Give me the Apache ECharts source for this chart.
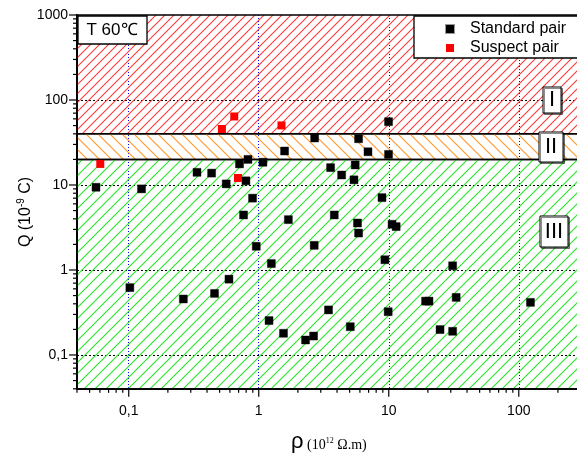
<!DOCTYPE html>
<html><head><meta charset="utf-8">
<script src="https://cdn.jsdelivr.net/npm/echarts@6/dist/echarts.min.js"></script>
<style>html,body{margin:0;padding:0;background:#fff}#c{width:577px;height:457px}</style>
</head><body><div id="c"></div>
<script>
// ---- data ----
const standardRho = [0.056, 0.1255, 0.102, 0.263, 0.335, 0.434, 0.457, 0.562, 0.59, 0.711, 0.764, 0.797, 0.826, 0.896, 0.957, 1.077, 1.2, 1.25, 1.55, 1.58, 1.69, 2.29, 2.64, 2.67, 2.69, 3.44, 3.57, 3.81, 4.34, 5.06, 5.4, 5.52, 5.75, 5.86, 5.86, 6.92, 8.87, 9.34, 9.9, 9.96, 9.96, 10.6, 11.4, 19.2, 20.4, 24.8, 31.0, 31.0, 33.0, 123];
const standardQ = [9.4, 9.0, 0.62, 0.456, 14.1, 13.8, 0.53, 10.3, 0.78, 17.7, 4.44, 11.2, 20.0, 7.0, 1.9, 18.5, 0.254, 1.19, 0.18, 25.1, 3.91, 0.15, 0.167, 1.95, 35.7, 0.339, 16.0, 4.44, 13.1, 0.215, 11.5, 17.2, 3.57, 2.72, 35.0, 24.6, 7.1, 1.32, 0.323, 55.6, 22.9, 3.45, 3.24, 0.43, 0.43, 0.199, 1.12, 0.19, 0.476, 0.416];
const suspectRho = [0.0604, 0.521, 0.648, 0.692, 1.497];
const suspectQ = [17.7, 45.6, 64, 12.1, 50.2];
const zoneNames = ['I', 'II', 'III'];
const zoneLow = [40, 20, 0.04];
const zoneHigh = [1000, 40, 20];
const xTickValues = [0.1, 1, 10, 100];
const xTickLabels = ['0,1', '1', '10', '100'];
const yTickValues = [0.1, 1, 10, 100, 1000];
const yTickLabels = ['0,1', '1', '10', '100', '1000'];
const xDecades = [0.01, 0.1, 1, 10, 100];
const yDecades = [0.01, 0.1, 1, 10, 100];
const mantissas = [2, 3, 4, 5, 6, 7, 8, 9];
const X_MIN = 0.04, X_MAX = 300, Y_MIN = 0.04, Y_MAX = 1000;

const SANS = '"Liberation Sans", Arial, sans-serif';
const SERIF = '"Liberation Serif", "Times New Roman", serif';

function hatch(color, s, dir, lw) {
  const c = document.createElement('canvas'); c.width = s; c.height = s;
  const g = c.getContext('2d'); g.strokeStyle = color; g.lineWidth = lw;
  g.beginPath();
  if (dir === '/') {
    g.moveTo(-1, s + 1); g.lineTo(s + 1, -1);
    g.moveTo(-2, 2); g.lineTo(2, -2);
    g.moveTo(s - 2, s + 2); g.lineTo(s + 2, s - 2);
  } else {
    g.moveTo(-1, -1); g.lineTo(s + 1, s + 1);
    g.moveTo(s - 2, -2); g.lineTo(s + 2, 2);
    g.moveTo(-2, s - 2); g.lineTo(2, s + 2);
  }
  g.stroke();
  return { image: c, repeat: 'repeat' };
}
const zoneFill = [hatch('#ff3b3b', 9, '/', 1.1), hatch('#ff9a2e', 12, '\\', 1.2), hatch('#2ee62e', 11, '/', 1.2)];

function lbl(values, labels) {
  return function (v) {
    for (let i = 0; i < values.length; i++) {
      if (Math.abs(Math.log10(v) - Math.log10(values[i])) < 1e-6) return labels[i];
    }
    return '';
  };
}

const xTickData = [], yTickData = [];
xTickValues.forEach(v => xTickData.push([v, Y_MIN, 8]));
xDecades.forEach(d => mantissas.forEach(m => { const v = m * d; if (v >= X_MIN - 1e-9 && v <= X_MAX + 1e-9) xTickData.push([v, Y_MIN, 4]); }));
yTickValues.forEach(v => yTickData.push([X_MIN, v, 8]));
yDecades.forEach(d => mantissas.forEach(m => { const v = m * d; if (v >= Y_MIN - 1e-9 && v <= Y_MAX + 1e-9) yTickData.push([X_MIN, v, 4]); }));

const chart = echarts.init(document.getElementById('c'), null, { renderer: 'canvas' });
chart.setOption({
  animation: false,
  backgroundColor: '#fff',
  textStyle: { fontFamily: SANS },
  grid: { left: 77, top: 15, right: -3.8, bottom: 68.2, containLabel: false, outerBoundsMode: 'none' },
  xAxis: {
    type: 'log', logBase: 10, min: X_MIN, max: X_MAX,
    axisLine: { show: true, onZero: false, lineStyle: { color: '#000', width: 2 } },
    axisTick: { show: false },
    axisLabel: { formatter: lbl(xTickValues, xTickLabels), color: '#000', fontSize: 14, fontFamily: SANS, margin: 15, showMinLabel: false, showMaxLabel: false },
    splitLine: { show: true, showMinLine: false, showMaxLine: false, lineStyle: { color: '#0000ff', type: [1, 2], width: 1 } },
    name: '{r|ρ}{t| (10}{s|12}{t| Ω.m)}',
    nameLocation: 'middle', nameGap: 48,
    nameTextStyle: {
      rich: {
        r: { fontSize: 22, fontFamily: SANS, color: '#000', lineHeight: 14, verticalAlign: 'bottom' },
        t: { fontSize: 14, fontFamily: SERIF, color: '#000', lineHeight: 16, verticalAlign: 'bottom' },
        s: { fontSize: 8, fontFamily: SERIF, color: '#000', lineHeight: 16, verticalAlign: 'top' }
      }
    }
  },
  yAxis: {
    type: 'log', logBase: 10, min: Y_MIN, max: Y_MAX,
    axisLine: { show: true, onZero: false, lineStyle: { color: '#000', width: 2 } },
    axisTick: { show: false },
    axisLabel: { formatter: lbl(yTickValues, yTickLabels), color: '#000', fontSize: 14, fontFamily: SANS, margin: 9, showMinLabel: false },
    splitLine: { show: true, showMinLine: false, showMaxLine: false, lineStyle: { color: '#000', type: [2, 2], width: 1 } }
  },
  legend: {
    orient: 'vertical', left: 414, top: 16,
    data: ['Standard pair', 'Suspect pair'],
    icon: 'rect', itemWidth: 8, itemHeight: 8, itemGap: 3,
    padding: [5, 40, 2, 31],
    backgroundColor: '#fff', borderColor: '#000', borderWidth: 1.3,
    textStyle: { fontSize: 16, fontFamily: SANS, color: '#000', padding: [0, 0, 0, 11] },
    selectedMode: false, z: 20
  },
  series: [
    {
      name: 'zones', type: 'scatter', data: [], z: 1, silent: true,
      markArea: {
        silent: true,
        itemStyle: { borderColor: '#000', borderWidth: 1.5 },
        data: zoneNames.map((n, i) => [
          { yAxis: zoneLow[i], itemStyle: { color: zoneFill[i], borderColor: '#000', borderWidth: 1.5 } },
          { yAxis: zoneHigh[i] }
        ])
      }
    },
    {
      name: 'xticks', type: 'custom', z: 5, silent: true, clip: false,
      data: xTickData,
      renderItem: function (params, api) {
        const p = api.coord([api.value(0), api.value(1)]);
        return { type: 'line', shape: { x1: p[0], y1: p[1], x2: p[0], y2: p[1] + api.value(2) }, style: { stroke: '#000', lineWidth: 1.2 } };
      }
    },
    {
      name: 'yticks', type: 'custom', z: 5, silent: true, clip: false,
      data: yTickData,
      renderItem: function (params, api) {
        const p = api.coord([api.value(0), api.value(1)]);
        return { type: 'line', shape: { x1: p[0], y1: p[1], x2: p[0] - api.value(2), y2: p[1] }, style: { stroke: '#000', lineWidth: 1.2 } };
      }
    },
    {
      name: 'Standard pair', type: 'scatter', symbol: 'rect', symbolSize: 8, z: 3,
      itemStyle: { color: '#000', borderColor: 'rgba(0,0,0,0.4)', borderWidth: 1, opacity: 1 },
      data: standardRho.map((r, i) => [r, standardQ[i]])
    },
    {
      name: 'Suspect pair', type: 'scatter', symbol: 'rect', symbolSize: 8, z: 4,
      itemStyle: { color: '#ff0000', opacity: 1 },
      data: suspectRho.map((r, i) => [r, suspectQ[i]])
    }
  ],
  graphic: [
    { type: 'rect', z: 100, shape: { x: 78, y: 16, width: 69, height: 28 }, style: { fill: '#fff', stroke: '#000', lineWidth: 1.3 } },
    { type: 'text', z: 101, x: 112, y: 30, style: { text: 'T 60℃', font: '17px ' + SANS, fill: '#000', align: 'center', verticalAlign: 'middle' } },
    { type: 'rect', z: 100, shape: { x: 543, y: 87, width: 18, height: 26 }, style: { fill: '#fff', stroke: '#000', lineWidth: 1, shadowColor: 'rgba(0,0,0,0.45)', shadowOffsetX: 1.5, shadowOffsetY: 1.5 } },
    { type: 'text', z: 101, x: 552, y: 100, style: { text: zoneNames[0], font: '22px ' + SANS, fill: '#000', align: 'center', verticalAlign: 'middle' } },
    { type: 'rect', z: 100, shape: { x: 539, y: 132, width: 24, height: 30 }, style: { fill: '#fff', stroke: '#000', lineWidth: 1, shadowColor: 'rgba(0,0,0,0.45)', shadowOffsetX: 1.5, shadowOffsetY: 1.5 } },
    { type: 'text', z: 101, x: 551, y: 147, style: { text: zoneNames[1], font: '22px ' + SANS, fill: '#000', align: 'center', verticalAlign: 'middle' } },
    { type: 'rect', z: 100, shape: { x: 540, y: 216, width: 28, height: 31 }, style: { fill: '#fff', stroke: '#000', lineWidth: 1, shadowColor: 'rgba(0,0,0,0.45)', shadowOffsetX: 1.5, shadowOffsetY: 1.5 } },
    { type: 'text', z: 101, x: 554, y: 231.5, style: { text: zoneNames[2], font: '22px ' + SANS, fill: '#000', align: 'center', verticalAlign: 'middle' } },
    { type: 'text', z: 101, x: 25, y: 212, rotation: Math.PI / 2,
      style: { text: '{a|Q (10}{s|-9}{a| C)}', align: 'center', verticalAlign: 'middle',
        rich: { a: { font: '16px ' + SANS, fill: '#000', lineHeight: 18, verticalAlign: 'bottom' }, s: { font: '10px ' + SANS, fill: '#000', lineHeight: 18, verticalAlign: 'top' } } } }
  ]
});
</script></body></html>
